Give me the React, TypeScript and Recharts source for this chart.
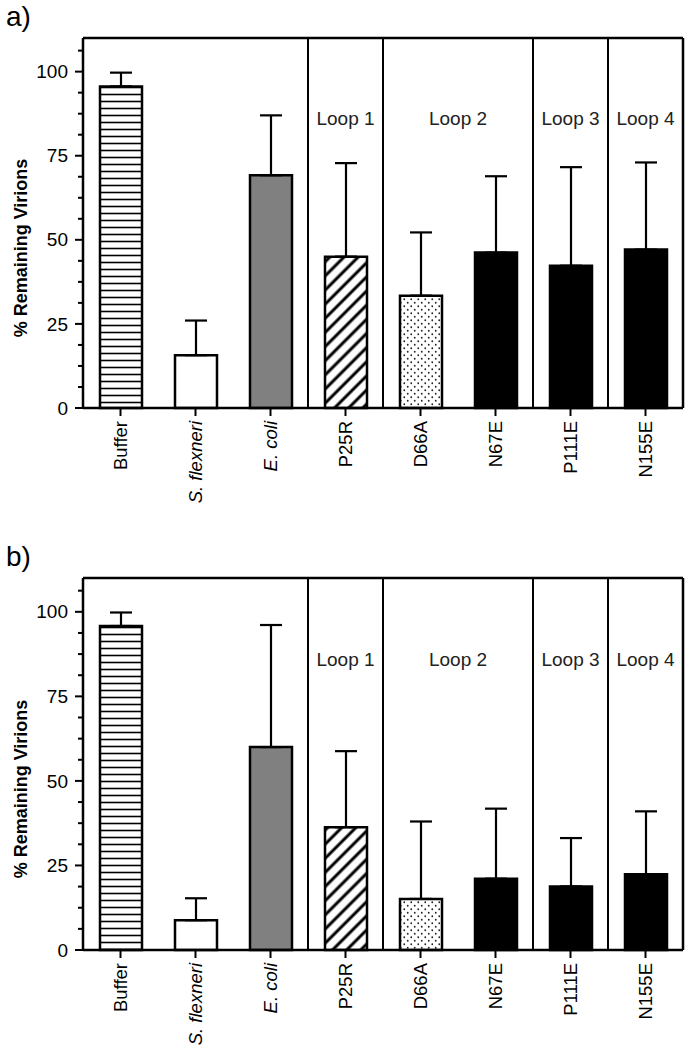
import React from "react"
import { Bar, BarChart, Cell, ErrorBar, ReferenceLine, XAxis, YAxis } from "recharts"

const categories = ["Buffer", "S. flexneri", "E. coli", "P25R", "D66A", "N67E", "P111E", "N155E"]
const italicCategories = ["S. flexneri", "E. coli"]

// panel a
const meansA = [95.6, 15.7, 69.2, 45.0, 33.4, 46.2, 42.3, 47.1]
const errorsA = [4.1, 10.3, 17.8, 27.8, 18.8, 22.7, 29.3, 25.9]

// panel b
const meansB = [95.8, 8.8, 60.0, 36.3, 15.1, 21.1, 18.8, 22.4]
const errorsB = [4.0, 6.5, 36.1, 22.5, 22.9, 20.7, 14.3, 18.6]

// loop groups: label sits over the category (middle) or on the band edge (start)
const loopNames = ["Loop 1", "Loop 2", "Loop 3", "Loop 4"]
const loopAnchors = ["P25R", "N67E", "P111E", "N155E"]
const loopAnchorPos = ["middle", "start", "middle", "middle"]
const loopY = 86
// vertical dividers before these categories
const dividers = ["P25R", "D66A", "P111E", "N155E"]

const yMajor = [0, 25, 50, 75, 100]
const yMinor = [6.25, 12.5, 18.75, 31.25, 37.5, 43.75, 56.25, 62.5, 68.75, 81.25, 87.5, 93.75, 106.25]
const yMax = 110

const FONT = '"Liberation Sans", Arial, sans-serif'

// fill per bar, in category order
const fills = (id: string) => [
  `url(#${id}-hlines)`,
  "#ffffff",
  "#808080",
  `url(#${id}-diag)`,
  `url(#${id}-dots)`,
  "#000000",
  "#000000",
  "#000000",
]

function YTick(props: any) {
  const { x, y, payload } = props
  const major = yMajor.includes(payload.value)
  return (
    <g>
      <line x1={x - (major ? 8 : 5)} x2={x} y1={y} y2={y} stroke="#000" strokeWidth={2} />
      {major && (
        <text x={x - 15} y={y} dy="0.35em" textAnchor="end" fontSize={19} fontFamily={FONT} fill="#000">
          {payload.value}
        </text>
      )}
    </g>
  )
}

function XTick(props: any) {
  const { x, y, payload } = props
  const italic = italicCategories.includes(payload.value)
  return (
    <g>
      <line x1={x} x2={x} y1={y} y2={y + 8} stroke="#000" strokeWidth={2} />
      <text
        transform={`translate(${x},${y + 13}) rotate(-90)`}
        dy="0.35em"
        textAnchor="end"
        fontSize={18.5}
        fontFamily={FONT}
        fontStyle={italic ? "italic" : "normal"}
        fill="#000"
      >
        {payload.value}
      </text>
    </g>
  )
}

function Panel({ letter, means, errors, top, height, bottom }: any) {
  const data = categories.map((name, i) => ({ name, value: means[i], err: [0, errors[i]] }))
  const f = fills(letter)
  return (
    <div style={{ position: "absolute", left: 0, top, width: 691, height }}>
      <div style={{ position: "absolute", left: 6, top: 0, fontFamily: FONT, fontSize: 28, lineHeight: "34px" }}>
        {letter})
      </div>
      <BarChart width={691} height={height} data={data} margin={{ top: 38, right: 8, left: 0, bottom }}>
        <defs>
          <pattern id={`${letter}-hlines`} patternUnits="userSpaceOnUse" width={8} height={7}>
            <rect width={8} height={7} fill="#fff" />
            <line x1={0} x2={8} y1={3.5} y2={3.5} stroke="#000" strokeWidth={1.6} />
          </pattern>
          <pattern id={`${letter}-diag`} patternUnits="userSpaceOnUse" width={10} height={10} patternTransform="rotate(45)">
            <rect width={10} height={10} fill="#fff" />
            <line x1={5} x2={5} y1={0} y2={10} stroke="#000" strokeWidth={3} />
          </pattern>
          <pattern id={`${letter}-dots`} patternUnits="userSpaceOnUse" width={7} height={7}>
            <rect width={7} height={7} fill="#fff" />
            <circle cx={1.75} cy={1.75} r={0.9} fill="#222" />
            <circle cx={5.25} cy={5.25} r={0.9} fill="#222" />
          </pattern>
        </defs>
        <XAxis
          dataKey="name"
          interval={0}
          height={100}
          tickSize={0}
          tickMargin={0}
          tickLine={false}
          tick={<XTick />}
          axisLine={{ stroke: "#000", strokeWidth: 2.5 }}
        />
        <YAxis
          width={83}
          domain={[0, yMax]}
          ticks={[...yMajor, ...yMinor]}
          interval={0}
          tickSize={0}
          tickMargin={0}
          tickLine={false}
          tick={<YTick />}
          axisLine={{ stroke: "#000", strokeWidth: 2.5 }}
          label={{
            content: (p: any) => {
              const vb = p.viewBox
              return (
                <text
                  transform={`translate(${vb.x + 27},${vb.y + vb.height / 2 + 25}) rotate(-90)`}
                  textAnchor="middle"
                  fontSize={18}
                  fontWeight="bold"
                  fontFamily={FONT}
                  fill="#000"
                >
                  % Remaining Virions
                </text>
              )
            },
          }}
        />
        <ReferenceLine y={yMax} stroke="#000" strokeWidth={2.5} ifOverflow="visible" />
        <ReferenceLine x="N155E" position="end" stroke="#000" strokeWidth={2.5} ifOverflow="visible" />
        {dividers.map((c) => (
          <ReferenceLine key={c} x={c} position="start" stroke="#000" strokeWidth={2} />
        ))}
        {loopNames.map((n, i) => (
          <ReferenceLine
            key={n}
            segment={[
              { x: loopAnchors[i], y: loopY - 3 },
              { x: loopAnchors[i], y: loopY + 3 },
            ]}
            position={loopAnchorPos[i] as any}
            stroke="none"
            label={{ value: n, position: "center", fontSize: 19, fontFamily: FONT, fill: "#222" }}
          />
        ))}
        <Bar dataKey="value" barSize={42} stroke="#000" strokeWidth={2.5} isAnimationActive={false}>
          {data.map((d, i) => (
            <Cell key={d.name} fill={f[i]} />
          ))}
          <ErrorBar dataKey="err" width={11} stroke="#000" strokeWidth={2.2} isAnimationActive={false} />
        </Bar>
      </BarChart>
    </div>
  )
}

export default function App() {
  return (
    <div style={{ position: "absolute", left: 0, top: 0, width: 691, height: 1050, background: "#fff" }}>
      <Panel letter="a" means={meansA} errors={errorsA} top={0} height={540} bottom={32} />
      <Panel letter="b" means={meansB} errors={errorsB} top={540} height={510} bottom={0} />
    </div>
  )
}
